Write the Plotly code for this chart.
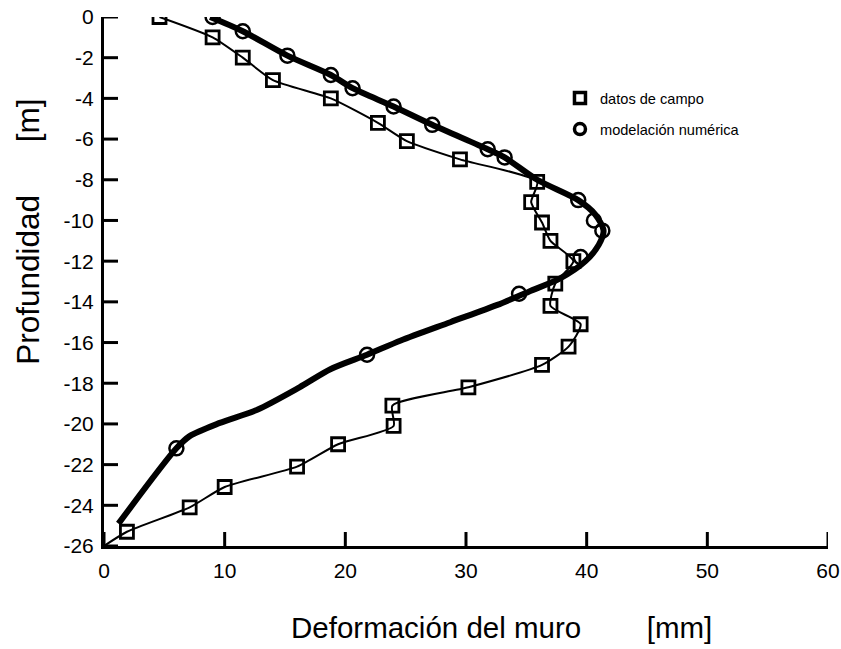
import plotly.graph_objects as go

# Field measurements (squares): wall deformation [mm] vs depth [m]
campo_x = [4.6, 9.0, 11.5, 14.0, 18.8, 22.7, 25.1, 29.5, 35.9, 35.4, 36.3, 37.0, 38.9,
           37.4, 37.0, 39.5, 38.5, 36.3, 30.2, 23.9, 24.0, 19.4, 16.0, 10.0, 7.1, 1.9, 0.0]
campo_y = [0.0, -1.0, -2.0, -3.1, -4.0, -5.2, -6.1, -7.0, -8.1, -9.1, -10.1, -11.0, -12.0,
           -13.1, -14.2, -15.1, -16.2, -17.1, -18.2, -19.1, -20.1, -21.0, -22.1, -23.1, -24.1, -25.3, -26.0]
campo_marker = [13] * 26 + [0]

# Numerical model curve
num_line_x = [8.8, 11.5, 15.2, 18.8, 20.6, 24.0, 27.2, 31.8, 33.2, 35.9, 39.3, 40.7, 41.4, 41.0,
              39.9, 37.8, 35.2, 32.6, 28.7, 24.6, 21.8, 18.8, 16.2, 12.7, 9.6, 7.1, 6.0, 1.2]
num_line_y = [0.0, -0.7, -1.9, -2.85, -3.5, -4.4, -5.3, -6.5, -6.9, -8.0, -9.0, -9.7, -10.5, -11.2,
              -12.0, -12.85, -13.5, -14.15, -15.0, -15.9, -16.6, -17.3, -18.2, -19.3, -19.95, -20.6, -21.2, -24.9]

# Numerical model points (circles)
num_x = [9.0, 11.5, 15.2, 18.8, 20.6, 24.0, 27.2, 31.8, 33.2, 39.3, 40.6, 41.3, 39.5, 34.4, 21.8, 6.0]
num_y = [0.0, -0.7, -1.9, -2.85, -3.5, -4.4, -5.3, -6.5, -6.9, -9.0, -10.0, -10.5, -11.8, -13.6, -16.6, -21.2]

x_ticks = [0, 10, 20, 30, 40, 50, 60]
y_ticks = list(range(0, -27, -2))

FONT = "Liberation Sans, Arial, sans-serif"
PLOT_W = 841 - 104 - 13
PLOT_H = 649 - 17 - 103
TICK_LEN = 14

fig = go.Figure()

fig.add_trace(go.Scatter(
    x=campo_x, y=campo_y, mode="lines+markers",
    line=dict(color="black", width=2, shape="spline", smoothing=0.6),
    marker=dict(symbol="square-open", size=campo_marker, color="black", opacity=1,
                line=dict(width=2.8, color="black")),
    showlegend=False, hoverinfo="skip",
))
fig.add_trace(go.Scatter(
    x=num_line_x, y=num_line_y, mode="lines",
    line=dict(color="black", width=6, shape="spline", smoothing=0.8),
    showlegend=False, hoverinfo="skip",
))
fig.add_trace(go.Scatter(
    x=num_x, y=num_y, mode="markers",
    marker=dict(symbol="circle-open", size=14, color="black", opacity=1,
                line=dict(width=2.5, color="black")),
    showlegend=False, hoverinfo="skip",
))

# Legend entries
fig.add_trace(go.Scatter(
    x=[None], y=[None], mode="markers", name="datos de campo", legendgroup="a",
    marker=dict(symbol="square-open", size=11, color="black", line=dict(width=3.5, color="black")),
))
fig.add_trace(go.Scatter(
    x=[None], y=[None], mode="markers", name="modelación numérica", legendgroup="b",
    marker=dict(symbol="circle-open", size=11, color="black", line=dict(width=3.5, color="black")),
))

# Inward tick marks on both axes
tick_shapes = []
for v in x_ticks:
    tick_shapes.append(dict(type="line", xref="x", yref="paper", x0=v, x1=v,
                            y0=0, y1=TICK_LEN / PLOT_H, layer="above",
                            line=dict(color="black", width=3)))
for v in y_ticks:
    tick_shapes.append(dict(type="line", xref="paper", yref="y", x0=0, x1=TICK_LEN / PLOT_W,
                            y0=v, y1=v, layer="above",
                            line=dict(color="black", width=3)))

axis_common = dict(
    showgrid=False, zeroline=False, showline=True, linecolor="black", linewidth=3,
    ticks="", tickmode="array", automargin=False,
    tickfont=dict(size=21, family=FONT, color="black"), fixedrange=True,
)

fig.update_layout(
    width=841, height=649,
    margin=dict(l=104, r=13, t=17, b=103),
    paper_bgcolor="white", plot_bgcolor="white",
    font=dict(family=FONT, color="black"),
    legend=dict(x=0.6298, y=0.877, xanchor="left", yanchor="top",
                font=dict(size=14.6, family=FONT), tracegroupgap=9,
                bgcolor="rgba(0,0,0,0)"),
    xaxis=dict(range=[0, 60], tickvals=x_ticks, ticktext=[str(v) for v in x_ticks],
               ticklabelstandoff=4, **axis_common),
    yaxis=dict(range=[-26, 0], tickvals=y_ticks, ticktext=[str(v) for v in y_ticks],
               ticklabelstandoff=3, **axis_common),
    shapes=tick_shapes,
    annotations=[
        dict(text="Deformación del muro" + " " * 8 + "[mm]", xref="paper", yref="paper",
             x=0.549, y=-0.155, xanchor="center", yanchor="middle", showarrow=False,
             font=dict(size=29.5, family=FONT)),
        dict(text="Profundidad" + " " * 6 + "[m]", xref="paper", yref="paper",
             x=-0.105, y=0.594, xanchor="center", yanchor="middle", showarrow=False,
             textangle=-90, font=dict(size=31.5, family=FONT)),
    ],
)

fig.write_html("out.html")
